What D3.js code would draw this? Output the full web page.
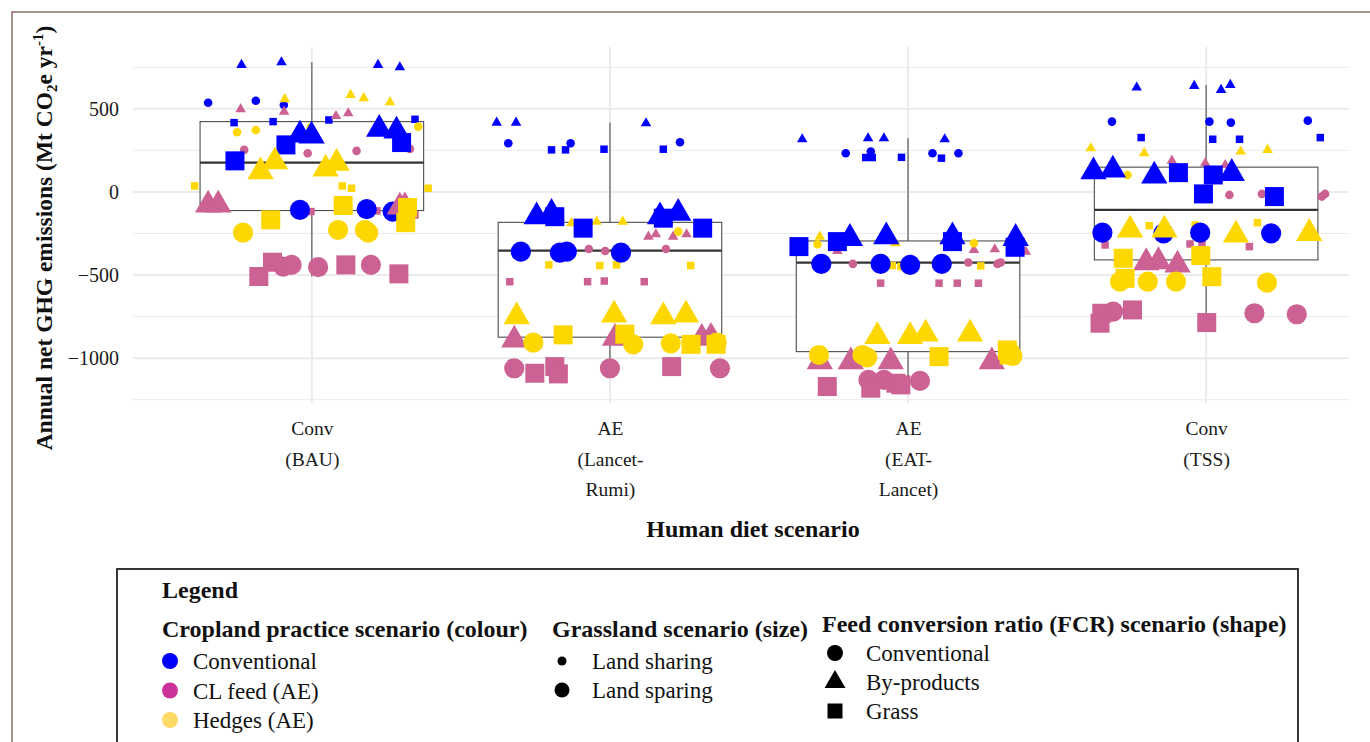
<!DOCTYPE html>
<html>
<head>
<meta charset="utf-8">
<script src="https://cdn.jsdelivr.net/npm/d3@7"></script>
<style>
body { margin: 0; background: #fff; }
svg { display: block; font-family: "Liberation Serif", serif; }
</style>
</head>
<body>
<svg id="chart" width="1370" height="742"></svg>
<script>
// ---- data ----
const diets = [["Conv", "(BAU)"], ["AE", "(Lancet-", "Rumi)"], ["AE", "(EAT-", "Lancet)"], ["Conv", "(TSS)"]];
const croplandLabels = ["Conventional", "CL feed (AE)", "Hedges (AE)"];
const grasslandLabels = ["Land sharing", "Land sparing"];
const fcrLabels = ["Conventional", "By-products", "Grass"];
const yTicks = [-1000, -500, 0, 500];
const yMinorTicks = [-1250, -750, -250, 250, 750];

// boxplot stats, one per diet
const whiskerLow = [-509, -1095, -1181, -790];
const q1 = [-112, -874, -961, -409];
const median = [176, -353, -425, -108];
const q3 = [423, -183, -295, 149];
const whiskerHigh = [780, 417, 323, 644];

// rows: [cropland, grassland, fcr, jitter (fraction of step), value]
// cropland 0 conv / 1 CL feed / 2 hedges; grassland 0 sharing / 1 sparing; fcr 0 conv / 1 by-products / 2 grass
const bau = [
  [0,0,1,-0.236,764],[0,0,1,-0.102,780],[0,0,1,0.222,764],[0,0,1,0.295,750],
  [0,0,0,-0.348,537],[0,0,0,-0.188,549],[0,0,0,-0.094,523],
  [0,0,2,-0.261,417],[0,0,2,-0.130,423],[0,0,2,0.057,433],[0,0,2,0.346,437],
  [0,1,1,-0.040,343],[0,1,1,-0.001,337],[0,1,1,0.226,377],[0,1,1,0.284,367],
  [0,1,2,-0.258,187],[0,1,2,-0.087,283],[0,1,2,0.301,297],
  [0,1,0,-0.040,-108],[0,1,0,0.184,-104],[0,1,0,0.271,-118],
  [1,0,1,-0.239,498],[1,0,1,-0.093,483],[1,0,1,0.081,457],[1,0,1,0.122,473],[1,0,1,0.312,-34],
  [1,0,0,-0.227,253],[1,0,0,-0.014,233],[1,0,0,0.150,247],[1,0,0,0.329,259],
  [1,0,2,-0.003,-118],[1,0,2,0.218,-114],[1,0,2,0.346,-138],
  [1,1,1,-0.348,-78],[1,1,1,-0.314,-78],[1,1,1,0.295,-90],
  [1,1,0,-0.096,-449],[1,1,0,-0.068,-439],[1,1,0,0.021,-453],[1,1,0,0.198,-439],
  [1,1,2,-0.178,-509],[1,1,2,-0.132,-423],[1,1,2,0.114,-439],[1,1,2,0.292,-493],
  [2,0,1,-0.091,558],[2,0,1,0.130,584],[2,0,1,0.174,564],[2,0,1,0.262,540],
  [2,0,0,-0.251,359],[2,0,0,-0.188,373],[2,0,0,-0.004,387],[2,0,0,0.357,393],
  [2,0,2,-0.393,36],[2,0,2,0.102,36],[2,0,2,0.133,22],[2,0,2,0.390,22],
  [2,1,1,-0.172,122],[2,1,1,-0.124,182],[2,1,1,0.046,138],[2,1,1,0.083,173],
  [2,1,0,-0.231,-245],[2,1,0,0.088,-229],[2,1,0,0.178,-229],[2,1,0,0.189,-245],
  [2,1,2,-0.138,-168],[2,1,2,0.105,-82],[2,1,2,0.321,-94],[2,1,2,0.315,-185]
];
const lancetRumi = [
  [0,0,1,-0.380,417],[0,0,1,-0.315,417],[0,0,1,0.121,413],
  [0,0,0,-0.341,293],[0,0,0,-0.132,293],[0,0,0,0.235,299],
  [0,0,2,-0.196,253],[0,0,2,-0.149,253],[0,0,2,-0.020,257],[0,0,2,0.179,257],
  [0,1,1,-0.246,-149],[0,1,1,-0.196,-128],[0,1,1,0.168,-149],[0,1,1,0.229,-128],
  [0,1,2,-0.185,-149],[0,1,2,-0.090,-218],[0,1,2,0.179,-158],[0,1,2,0.311,-218],
  [0,1,0,-0.299,-359],[0,1,0,-0.168,-365],[0,1,0,-0.145,-359],[0,1,0,0.037,-365],
  [1,0,1,0.129,-269],[1,0,1,0.154,-255],[1,0,1,0.212,-269],[1,0,1,0.257,-255],
  [1,0,0,-0.071,-343],[1,0,0,-0.016,-355],[1,0,0,0.188,-343],
  [1,0,2,-0.336,-540],[1,0,2,-0.075,-540],[1,0,2,-0.019,-536],[1,0,2,0.115,-540],
  [1,1,1,-0.321,-891],[1,1,1,0.017,-880],[1,1,1,0.308,-880],[1,1,1,0.339,-874],
  [1,1,0,-0.321,-1061],[1,1,0,0.000,-1061],[1,1,0,0.369,-1061],
  [1,1,2,-0.252,-1091],[1,1,2,-0.185,-1051],[1,1,2,-0.173,-1095],[1,1,2,0.207,-1051],
  [2,0,1,-0.129,-188],[2,0,1,-0.045,-179],[2,0,1,0.043,-179],
  [2,0,0,0.229,-239],
  [2,0,2,-0.205,-439],[2,0,2,-0.034,-443],[2,0,2,0.022,-439],[2,0,2,0.271,-443],
  [2,1,1,-0.313,-750],[2,1,1,0.014,-740],[2,1,1,0.179,-750],[2,1,1,0.255,-740],
  [2,1,0,-0.257,-907],[2,1,0,0.078,-917],[2,1,0,0.204,-911],[2,1,0,0.358,-907],
  [2,1,2,-0.157,-860],[2,1,2,0.050,-856],[2,1,2,0.272,-917],[2,1,2,0.356,-917]
];
const eatLancet = [
  [0,0,1,-0.355,317],[0,0,1,-0.134,323],[0,0,1,-0.081,323],[0,0,1,0.123,317],
  [0,0,0,-0.209,233],[0,0,0,-0.125,243],[0,0,0,0.082,233],[0,0,0,0.169,233],
  [0,0,2,-0.142,207],[0,0,2,-0.120,207],[0,0,2,-0.022,208],[0,0,2,0.112,203],
  [0,1,1,-0.195,-279],[0,1,1,-0.073,-269],[0,1,1,0.149,-269],[0,1,1,0.361,-279],
  [0,1,2,-0.366,-329],[0,1,2,-0.237,-299],[0,1,2,0.149,-299],[0,1,2,0.359,-333],
  [0,1,0,-0.291,-433],[0,1,0,-0.092,-433],[0,1,0,0.007,-439],[0,1,0,0.113,-433],
  [1,0,1,-0.237,-355],[1,0,1,0.221,-349],[1,0,1,0.291,-345],[1,0,1,0.395,-359],
  [1,0,0,-0.185,-433],[1,0,0,0.202,-425],[1,0,0,0.300,-433],[1,0,0,0.311,-425],
  [1,0,2,-0.092,-549],[1,0,2,0.104,-549],[1,0,2,0.165,-549],[1,0,2,0.236,-549],
  [1,1,1,-0.296,-1021],[1,1,1,-0.192,-1021],[1,1,1,-0.058,-1021],[1,1,1,0.281,-1021],
  [1,1,0,-0.133,-1131],[1,1,0,-0.081,-1131],[1,1,0,0.040,-1137],
  [1,1,2,-0.271,-1171],[1,1,2,-0.125,-1181],[1,1,2,-0.041,-1151],[1,1,2,-0.024,-1161],
  [2,0,1,-0.296,-269],[2,0,1,-0.042,-309],
  [2,0,0,-0.304,-315],[2,0,0,0.221,-309],
  [2,0,2,-0.053,-443],[2,0,2,-0.024,-449],[2,0,2,0.244,-445],
  [2,1,1,-0.103,-870],[2,1,1,0.007,-870],[2,1,1,0.059,-854],[2,1,1,0.208,-854],
  [2,1,0,-0.299,-981],[2,1,0,-0.153,-981],[2,1,0,-0.137,-995],[2,1,0,0.350,-987],
  [2,1,2,0.104,-991],[2,1,2,0.333,-951],[2,1,2,0.339,-981]
];
const tss = [
  [0,0,1,-0.233,628],[0,0,1,-0.040,638],[0,0,1,0.050,614],[0,0,1,0.081,644],
  [0,0,0,-0.316,423],[0,0,0,0.011,423],[0,0,0,0.083,417],[0,0,0,0.341,429],
  [0,0,2,-0.218,327],[0,0,2,0.022,317],[0,0,2,0.112,317],[0,0,2,0.383,327],
  [0,1,1,-0.378,122],[0,1,1,-0.313,132],[0,1,1,-0.174,96],[0,1,1,0.086,112],
  [0,1,2,-0.093,116],[0,1,2,0.024,102],[0,1,2,-0.009,-12],[0,1,2,0.229,-28],
  [0,1,0,-0.348,-245],[0,1,0,-0.143,-249],[0,1,0,-0.020,-245],[0,1,0,0.218,-249],
  [1,0,1,-0.115,188],[1,0,1,-0.003,173],[1,0,1,0.064,162],
  [1,0,0,0.078,-18],[1,0,0,0.187,-12],[1,0,0,0.388,-28],[1,0,0,0.399,-12],
  [1,0,2,-0.339,-319],[1,0,2,-0.054,-313],[1,0,2,-0.014,-313],[1,0,2,0.145,-329],
  [1,1,1,-0.201,-425],[1,1,1,-0.160,-419],[1,1,1,-0.096,-439],
  [1,1,0,-0.312,-720],[1,1,0,0.162,-730],[1,1,0,0.304,-736],
  [1,1,2,-0.350,-730],[1,1,2,-0.356,-790],[1,1,2,-0.247,-710],[1,1,2,0.002,-786],
  [2,0,1,-0.387,263],[2,0,1,-0.208,233],[2,0,1,0.116,243],[2,0,1,0.206,253],
  [2,0,0,-0.264,102],
  [2,0,2,-0.191,-203],[2,0,2,-0.037,-199],[2,0,2,0.172,-185],
  [2,1,1,-0.255,-229],[2,1,1,-0.140,-229],[2,1,1,0.100,-259],[2,1,1,0.346,-249],
  [2,1,0,-0.289,-540],[2,1,0,-0.196,-540],[2,1,0,-0.101,-540],[2,1,0,0.204,-546],
  [2,1,2,-0.278,-399],[2,1,2,-0.272,-520],[2,1,2,-0.018,-383],[2,1,2,0.019,-510]
];

// ---- chart ----
const svg = d3.select("#chart");
const panel = {left: 133, right: 1349, top: 47, bottom: 403};

const x = d3.scalePoint().domain(d3.range(diets.length)).range([133, 1385]).padding(0.6);
const y = d3.scaleLinear().domain([-1270, 872]).range([panel.bottom, panel.top]);
const step = x.step();

const pointColour = d3.scaleOrdinal().domain([0, 1, 2]).range(["#0000ff", "#cc6193", "#ffd700"]);
const legendColour = d3.scaleOrdinal().domain([0, 1, 2]).range(["#0000ff", "#cc3399", "#ffd966"]);
const shapes = [d3.symbolCircle, d3.symbolTriangle, d3.symbolSquare];
const symbolArea = [[58, 48, 56], [320, 300, 361]]; // [grassland][fcr]

// outer frame
svg.append("path")
  .attr("d", "M12,742V12H1370")
  .attr("fill", "none")
  .attr("stroke", "#8a6d63")
  .attr("stroke-width", 1.5);

// grid
const grid = svg.append("g").attr("stroke", "#ebebeb");
grid.selectAll(".minor").data(yMinorTicks).join("line")
  .attr("x1", panel.left).attr("x2", panel.right)
  .attr("y1", y).attr("y2", y)
  .attr("stroke-width", 1);
grid.selectAll(".major").data(yTicks).join("line")
  .attr("x1", panel.left).attr("x2", panel.right)
  .attr("y1", y).attr("y2", y)
  .attr("stroke-width", 2);
grid.selectAll(".vert").data(x.domain()).join("line")
  .attr("x1", x).attr("x2", x)
  .attr("y1", panel.top).attr("y2", panel.bottom)
  .attr("stroke-width", 2);

// y axis labels
const yAxis = svg.append("g")
  .attr("transform", `translate(${panel.left},0)`)
  .call(d3.axisLeft(y).tickValues(yTicks).tickSize(0).tickPadding(14).tickFormat(d3.format("d")));
yAxis.select(".domain").remove();
yAxis.attr("font-family", null).attr("font-size", 20);
yAxis.selectAll("text").attr("fill", "#1a1a1a").attr("dy", "0.33em");

// x axis labels
const xAxis = svg.append("g")
  .attr("transform", `translate(0,${panel.bottom})`)
  .call(d3.axisBottom(x).tickSize(0).tickFormat(""));
xAxis.select(".domain").remove();
xAxis.attr("font-family", null).attr("font-size", 19.5);
xAxis.selectAll(".tick text").each(function(i) {
  const t = d3.select(this).attr("y", 32).attr("dy", 0).attr("fill", "#1a1a1a");
  diets[i].forEach((line, k) => {
    t.append("tspan").attr("x", 0).attr("dy", k ? 30.5 : 0).text(line);
  });
});

// axis titles
svg.append("text")
  .attr("x", 753).attr("y", 537)
  .attr("text-anchor", "middle")
  .attr("font-size", 24).attr("font-weight", "bold").attr("fill", "#111")
  .text("Human diet scenario");

const yTitle = svg.append("text")
  .attr("transform", "translate(52,238) rotate(-90)")
  .attr("text-anchor", "middle")
  .attr("font-size", 23.5).attr("font-weight", "bold").attr("fill", "#111");
yTitle.append("tspan").text("Annual net GHG emissions (Mt CO");
yTitle.append("tspan").attr("font-size", 15).attr("dy", 5).text("2");
yTitle.append("tspan").attr("dy", -5).text("e yr");
yTitle.append("tspan").attr("font-size", 15).attr("dy", -9).text("-1");
yTitle.append("tspan").attr("dy", 9).text(")");

// boxplots
const boxW = 0.75 * step;
const box = svg.append("g").attr("stroke", "#4d4d4d").selectAll("g")
  .data(x.domain()).join("g");
box.append("line")
  .attr("x1", x).attr("x2", x)
  .attr("y1", i => y(q3[i])).attr("y2", i => y(whiskerHigh[i]))
  .attr("stroke-width", 1.1);
box.append("line")
  .attr("x1", x).attr("x2", x)
  .attr("y1", i => y(q1[i])).attr("y2", i => y(whiskerLow[i]))
  .attr("stroke-width", 1.1);
box.append("rect")
  .attr("x", i => x(i) - boxW / 2).attr("width", boxW)
  .attr("y", i => y(q3[i])).attr("height", i => y(q1[i]) - y(q3[i]))
  .attr("fill", "#fff").attr("stroke-width", 1.1);
box.append("line")
  .attr("x1", i => x(i) - boxW / 2).attr("x2", i => x(i) + boxW / 2)
  .attr("y1", i => y(median[i])).attr("y2", i => y(median[i]))
  .attr("stroke", "#333").attr("stroke-width", 2.2);

// points
const points = [bau, lancetRumi, eatLancet, tss].flatMap((rows, i) => rows.map(r => ({
  diet: i, crop: r[0], grass: r[1], fcr: r[2], jitter: r[3], value: r[4]
})));
points.sort((a, b) => (a.grass - b.grass) || (a.crop - b.crop));

svg.append("g").selectAll("path")
  .data(points).join("path")
  .attr("transform", d => `translate(${x(d.diet) + d.jitter * step},${y(d.value)})`)
  .attr("d", d => d3.symbol(shapes[d.fcr], symbolArea[d.grass][d.fcr])())
  .attr("fill", d => pointColour(d.crop));

// legend
const legend = svg.append("g").attr("fill", "#111");
legend.append("rect")
  .attr("x", 117).attr("y", 569).attr("width", 1181).attr("height", 190)
  .attr("fill", "none").attr("stroke", "#222").attr("stroke-width", 1.8);

const heading = (tx, ty, s) => legend.append("text")
  .attr("x", tx).attr("y", ty).attr("font-size", 24).attr("font-weight", "bold").text(s);
heading(162, 598, "Legend");
heading(162, 637, "Cropland practice scenario (colour)");
heading(552, 637, "Grassland scenario (size)");
heading(822, 632, "Feed conversion ratio (FCR) scenario (shape)");

const cropRows = legend.append("g").selectAll("g").data(croplandLabels).join("g")
  .attr("transform", (d, i) => `translate(170,${661 + i * 29.5})`);
cropRows.append("circle").attr("r", 8).attr("fill", (d, i) => legendColour(i));
cropRows.append("text").attr("x", 23).attr("dy", "0.35em").attr("font-size", 23).text(d => d);

const grassRows = legend.append("g").selectAll("g").data(grasslandLabels).join("g")
  .attr("transform", (d, i) => `translate(562,${661 + i * 29})`);
grassRows.append("circle").attr("r", (d, i) => i ? 7.5 : 4.5).attr("fill", "#000");
grassRows.append("text").attr("x", 30).attr("dy", "0.35em").attr("font-size", 23).text(d => d);

const fcrRows = legend.append("g").selectAll("g").data(fcrLabels).join("g")
  .attr("transform", (d, i) => `translate(835,${653 + i * 29})`);
fcrRows.append("path")
  .attr("d", (d, i) => d3.symbol(shapes[i], [200, 190, 225][i])())
  .attr("fill", "#000");
fcrRows.append("text").attr("x", 31).attr("dy", "0.35em").attr("font-size", 23).text(d => d);
</script>
</body>
</html>
